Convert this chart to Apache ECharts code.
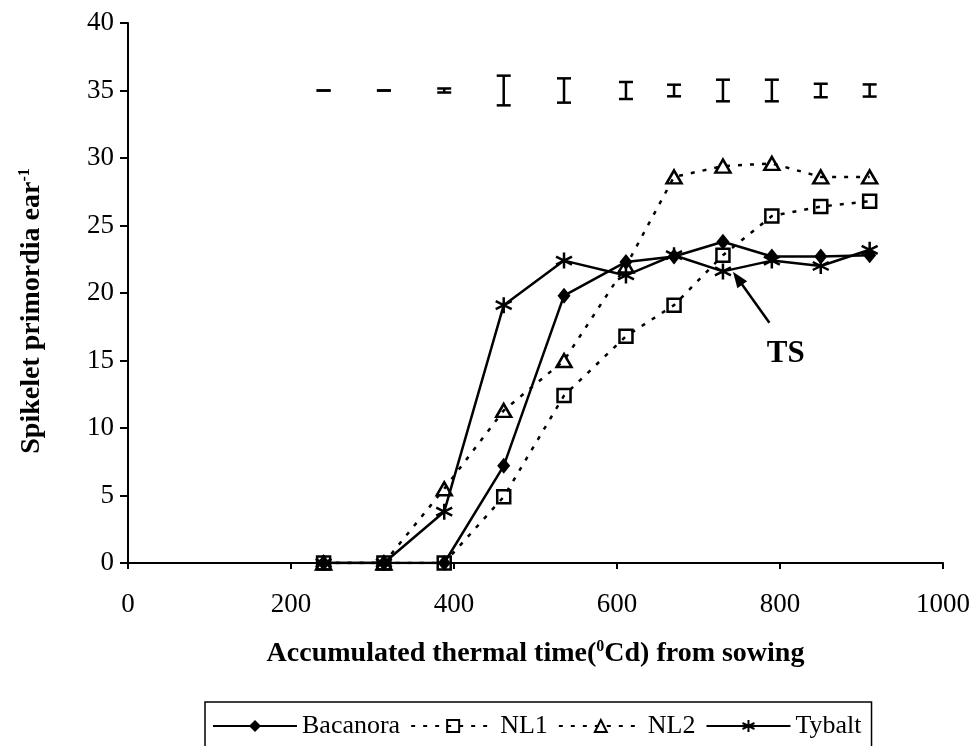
<!DOCTYPE html>
<html>
<head>
<meta charset="utf-8">
<script src="https://cdn.jsdelivr.net/npm/echarts@6/dist/echarts.min.js"></script>
<style>
  html, body { margin: 0; padding: 0; background: #fff; }
  #chart { width: 974px; height: 746px; }
</style>
</head>
<body>
<div id="chart"></div>
<script>
  // sampling times (thermal time, °Cd)
  const TIME = [240, 314, 388, 461, 535, 611, 670, 730, 790, 850, 910]
  const BACANORA = [0, 0, 0, 7.2, 19.8, 22.3, 22.7, 23.8, 22.7, 22.7, 22.8]
  const NL1 = [0, 0, 0, 4.9, 12.4, 16.8, 19.1, 22.8, 25.7, 26.4, 26.8]
  const NL2 = [0, 0, 5.5, 11.3, 15.0, 22.0, 28.6, 29.4, 29.6, 28.6, 28.6]
  const TYBALT = [0, 0, 3.8, 19.1, 22.4, 21.3, 22.8, 21.6, 22.4, 22.0, 23.2]

  // LSD bars drawn along the top at y = 35
  const ERR_MEAN = 35
  const ERR_HALF = [0, 0, 0.15, 1.1, 0.9, 0.63, 0.43, 0.8, 0.8, 0.5, 0.45]

  // arrow pointing at TS
  const TS_ARROW = [[787, 17.8], [748, 21.1]]
  const TS_LABEL = [807, 15.5]

  const FONT = 'Liberation Serif'
  const STAR = 'path://M0,-10L0,10M-8.66,-5L8.66,5M-8.66,5L8.66,-5'

  const pairs = (ys) => TIME.map((t, i) => [t, ys[i]])

  const chart = echarts.init(document.getElementById('chart'))

  const titleRich = {
    a: { fontFamily: FONT, fontSize: 28, fontWeight: 'bold', color: '#000', lineHeight: 30 },
    s: { fontFamily: FONT, fontSize: 16, fontWeight: 'bold', color: '#000', verticalAlign: 'top', lineHeight: 30 }
  }

  const options = {
    backgroundColor: '#fff',
    animation: false,
    textStyle: { fontFamily: FONT, color: '#000' },
    grid: {
      left: 128,
      right: 31,
      top: 23,
      bottom: 183
    },
    legend: {
      left: 205,
      top: 702,
      orient: 'horizontal',
      borderColor: '#000',
      borderWidth: 1.5,
      padding: [11, 10, 40, 7],
      itemWidth: 84,
      itemHeight: 15,
      itemGap: 10,
      textStyle: { fontFamily: FONT, fontSize: 26, color: '#000' },
      data: ['Bacanora', 'NL1', 'NL2', 'Tybalt']
    },
    xAxis: {
      type: 'value',
      min: 0,
      max: 1000,
      interval: 200,
      name: '{a|Accumulated thermal time(}{s|0}{a|Cd) from sowing}',
      nameLocation: 'middle',
      nameGap: 76,
      nameTextStyle: { rich: titleRich },
      axisLine: { lineStyle: { color: '#000', width: 2 } },
      axisTick: { show: true, length: 6, lineStyle: { color: '#000', width: 2 } },
      axisLabel: {
        fontFamily: FONT,
        fontSize: 27,
        color: '#000',
        margin: 28,
        formatter: (v) => String(v)
      },
      splitLine: { show: false }
    },
    yAxis: {
      type: 'value',
      min: 0,
      max: 40,
      interval: 5,
      name: '{a|Spikelet primordia ear}{s|-1}',
      nameLocation: 'middle',
      nameGap: 81,
      nameRotate: 90,
      nameTextStyle: { rich: titleRich, padding: [0, 36, 0, 0] },
      axisLine: { show: true, lineStyle: { color: '#000', width: 2 } },
      axisTick: { show: true, length: 8, lineStyle: { color: '#000', width: 2 } },
      axisLabel: { fontFamily: FONT, fontSize: 27, color: '#000', margin: 14 },
      splitLine: { show: false }
    },
    series: [
      {
        name: 'Bacanora',
        type: 'line',
        data: pairs(BACANORA),
        symbol: 'diamond',
        symbolSize: [13, 16],
        itemStyle: { color: '#000' },
        lineStyle: { color: '#000', width: 2.5 },
        z: 3
      },
      {
        name: 'NL1',
        type: 'line',
        data: pairs(NL1),
        symbol: 'rect',
        symbolSize: 13,
        itemStyle: { color: 'rgba(255,255,255,0)', borderColor: '#000', borderWidth: 2.5 },
        lineStyle: { color: '#000', width: 2.5, type: [4, 8] },
        z: 4
      },
      {
        name: 'NL2',
        type: 'line',
        data: pairs(NL2),
        symbol: 'triangle',
        symbolSize: [15, 13],
        itemStyle: { color: 'rgba(255,255,255,0)', borderColor: '#000', borderWidth: 2.5 },
        lineStyle: { color: '#000', width: 2.5, type: [4, 8] },
        z: 4
      },
      {
        name: 'Tybalt',
        type: 'line',
        data: pairs(TYBALT),
        symbol: STAR,
        symbolSize: 16,
        itemStyle: { color: '#000', borderColor: '#000', borderWidth: 2.5 },
        lineStyle: { color: '#000', width: 2.5 },
        z: 3,
        markLine: {
          silent: true,
          symbol: ['none', 'triangle'],
          symbolSize: [12, 16],
          label: { show: false },
          lineStyle: { color: '#000', width: 2.5, type: 'solid' },
          data: [[{ coord: TS_ARROW[0] }, { coord: TS_ARROW[1] }]]
        },
        markPoint: {
          silent: true,
          symbol: 'circle',
          symbolSize: 1,
          itemStyle: { color: 'rgba(0,0,0,0)' },
          label: {
            show: true,
            position: 'inside',
            formatter: 'TS',
            fontFamily: FONT,
            fontSize: 31,
            fontWeight: 'bold',
            color: '#000'
          },
          data: [{ coord: TS_LABEL }]
        }
      },
      {
        name: 'LSD',
        type: 'custom',
        silent: true,
        data: TIME.map((t, i) => [t, ERR_MEAN, ERR_HALF[i]]),
        renderItem: function (params, api) {
          const x = api.value(0)
          const top = api.coord([x, api.value(1) + api.value(2)])
          const bot = api.coord([x, api.value(1) - api.value(2)])
          const half = 7
          const style = { stroke: '#000', lineWidth: 2.5 }
          return {
            type: 'group',
            children: [
              { type: 'line', shape: { x1: top[0], y1: top[1], x2: bot[0], y2: bot[1] }, style },
              { type: 'line', shape: { x1: top[0] - half, y1: top[1], x2: top[0] + half, y2: top[1] }, style },
              { type: 'line', shape: { x1: bot[0] - half, y1: bot[1], x2: bot[0] + half, y2: bot[1] }, style }
            ]
          }
        },
        z: 5
      }
    ]
  }

  chart.setOption(options)
</script>
</body>
</html>
